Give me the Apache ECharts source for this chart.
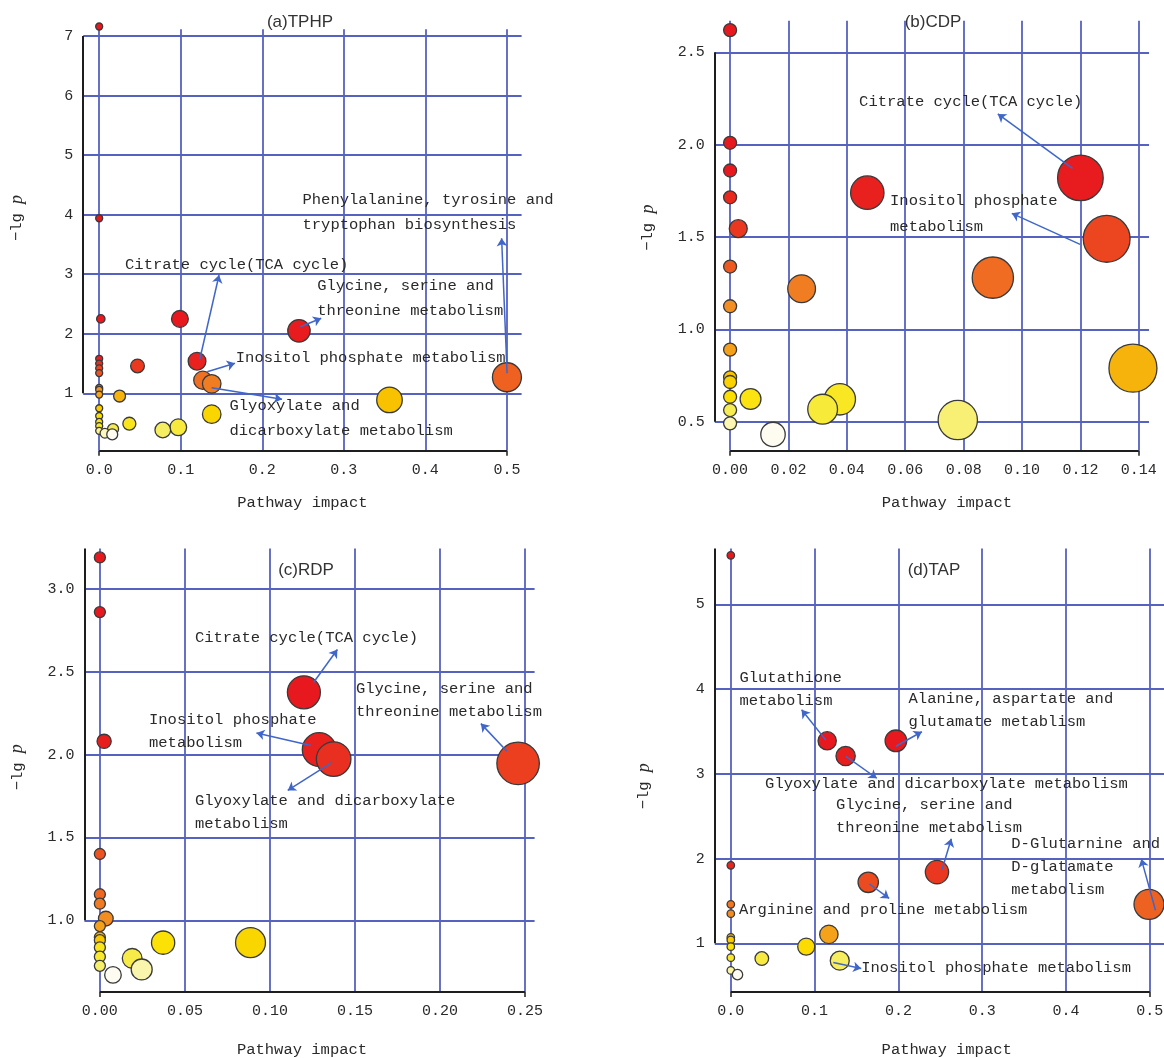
<!DOCTYPE html>
<html>
<head>
<meta charset="utf-8">
<title>Metabolic pathway analysis</title>
<script src="https://cdn.jsdelivr.net/npm/echarts@6/dist/echarts.min.js"></script>
<style>
  html, body { margin: 0; padding: 0; background: #ffffff; }
  #chart { width: 1164px; height: 1058px; }
</style>
</head>
<body>
<div id="chart"></div>
<script>
// ---- (a) TPHP: pathway impact and -lg p for each pathway ----
const tphpImpact = [0, 0, 0.002, 0.099, 0.245, 0, 0.120, 0, 0.047, 0, 0, 0.500, 0.127, 0.138, 0, 0, 0,
  0.025, 0.356, 0, 0.138, 0, 0, 0.037, 0, 0.097, 0.017, 0.078, 0, 0.007, 0.016];
const tphpLogP = [7.16, 3.94, 2.25, 2.25, 2.05, 1.58, 1.54, 1.50, 1.46, 1.42, 1.34, 1.27, 1.22, 1.16, 1.09, 1.06, 0.98,
  0.955, 0.89, 0.75, 0.65, 0.62, 0.52, 0.49, 0.45, 0.43, 0.40, 0.385, 0.37, 0.33, 0.31];
const tphpXTicks = [0, 0.1, 0.2, 0.3, 0.4, 0.5];
const tphpYTicks = [1, 2, 3, 4, 5, 6, 7];

// ---- (b) CDP ----
const cdpImpact = [0, 0, 0, 0.120, 0.047, 0, 0.0028, 0.129, 0, 0.090, 0.0245, 0, 0, 0.138, 0, 0, 0,
  0.007, 0.0376, 0.0317, 0, 0.078, 0, 0.0147];
const cdpLogP = [2.62, 2.01, 1.86, 1.82, 1.74, 1.715, 1.545, 1.49, 1.34, 1.28, 1.22, 1.125, 0.89, 0.79, 0.74, 0.715, 0.635,
  0.623, 0.621, 0.568, 0.563, 0.509, 0.491, 0.431];
const cdpXTicks = [0, 0.02, 0.04, 0.06, 0.08, 0.10, 0.12, 0.14];
const cdpYTicks = [0.5, 1.0, 1.5, 2.0, 2.5];

// ---- (c) RDP ----
const rdpImpact = [0, 0, 0.120, 0.0025, 0.129, 0.1375, 0.246, 0, 0, 0, 0.0035, 0, 0, 0, 0.0886, 0.0372,
  0, 0, 0.019, 0, 0.0246, 0.0077];
const rdpLogP = [3.19, 2.86, 2.376, 2.08, 2.03, 1.973, 1.947, 1.40, 1.157, 1.10, 1.01, 0.965, 0.897, 0.88, 0.865, 0.865,
  0.836, 0.78, 0.77, 0.725, 0.703, 0.67];
const rdpXTicks = [0, 0.05, 0.10, 0.15, 0.20, 0.25];
const rdpYTicks = [1.0, 1.5, 2.0, 2.5, 3.0];

// ---- (d) TAP ----
const tapImpact = [0, 0.115, 0.197, 0.137, 0, 0.246, 0.164, 0.499, 0, 0, 0.117, 0, 0, 0.090, 0, 0, 0.037, 0.130, 0, 0.008];
const tapLogP = [5.58, 3.39, 3.39, 3.21, 1.92, 1.84, 1.72, 1.46, 1.46, 1.35, 1.105, 1.07, 1.04, 0.96, 0.96, 0.83, 0.82, 0.795, 0.68, 0.63];
const tapXTicks = [0, 0.1, 0.2, 0.3, 0.4, 0.5];
const tapYTicks = [1, 2, 3, 4, 5];

// ---- pathway annotations (text anchor, arrow start at the bubble, arrow head) ----
const tphpNotes = [
  { text: 'Phenylalanine, tyrosine and\ntryptophan biosynthesis', at: [0.2493, 4.457], from: [0.5002, 1.337], to: [0.4935, 3.604] },
  { text: 'Citrate cycle(TCA cycle)', at: [0.0317, 3.374], from: [0.1234, 1.572], to: [0.147, 2.987] },
  { text: 'Glycine, serine and\nthreonine metabolism', at: [0.2673, 3.013], from: [0.2469, 2.119], to: [0.2723, 2.260] },
  { text: 'Inositol phosphate metabolism', at: [0.1675, 1.803], from: [0.1325, 1.364], to: [0.1665, 1.505] },
  { text: 'Glyoxylate and\ndicarboxylate metabolism', at: [0.1598, 0.997], from: [0.1379, 1.095], to: [0.2242, 0.900] }
];
const cdpNotes = [
  { text: 'Citrate cycle(TCA cycle)', at: [0.0442, 2.301], from: [0.1173, 1.872], to: [0.0917, 2.166] },
  { text: 'Inositol phosphate\nmetabolism', at: [0.0548, 1.765], from: [0.1199, 1.460], to: [0.0965, 1.628] }
];
const rdpNotes = [
  { text: 'Citrate cycle(TCA cycle)', at: [0.0559, 2.773], from: [0.1258, 2.437], to: [0.1397, 2.634] },
  { text: 'Glycine, serine and\nthreonine metabolism', at: [0.1506, 2.465], from: [0.2394, 2.020], to: [0.2241, 2.187] },
  { text: 'Inositol phosphate\nmetabolism', at: [0.0289, 2.281], from: [0.1241, 2.055], to: [0.0921, 2.130] },
  { text: 'Glyoxylate and dicarboxylate\nmetabolism', at: [0.0559, 1.792], from: [0.1365, 1.953], to: [0.1105, 1.784] }
];
const tapNotes = [
  { text: 'Glutathione\nmetabolism', at: [0.0103, 4.270], from: [0.1134, 3.398], to: [0.0845, 3.756] },
  { text: 'Alanine, aspartate and\nglutamate metablism', at: [0.2121, 4.017], from: [0.1969, 3.326], to: [0.2280, 3.497] },
  { text: 'Glyoxylate and dicarboxylate metabolism', at: [0.0409, 3.016], from: [0.1374, 3.207], to: [0.1742, 2.948] },
  { text: 'Glycine, serine and\nthreonine metabolism', at: [0.1254, 2.765], from: [0.2520, 1.869], to: [0.2631, 2.233] },
  { text: 'D-Glutarnine and\nD-glatamate\nmetabolism', at: [0.3347, 2.311], from: [0.5067, 1.390], to: [0.4899, 1.994] },
  { text: 'Arginine and proline metabolism', at: [0.0098, 1.534], from: [0.1654, 1.700], to: [0.1889, 1.529] },
  { text: 'Inositol phosphate metabolism', at: [0.1556, 0.850], from: [0.1223, 0.773], to: [0.1556, 0.702] }
];

// ---- layout and styling of each panel ----
const MONO = '"Liberation Mono", "DejaVu Sans Mono", monospace';
const GRID_BLUE = '#5662c0';
const ARROW_BLUE = '#3f66c8';
const AXIS_BLACK = '#1e1e1e';
const TEXT = '#2a2a2a';
// heat ramp: most significant pathway (rank 0) red, least significant white
const HEAT = ['#e8191e', '#e8191e', '#e8221e', '#eb4420', '#ef7022', '#f39622',
  '#f8c200', '#fbe000', '#f8e82a', '#f6ee62', '#fefcf0'];

const panels = [
  { title: '(a)TPHP', titleAt: [300, 22], impact: tphpImpact, logP: tphpLogP, xTicks: tphpXTicks, yTicks: tphpYTicks,
    xDec: 1, yDec: 0, grid: { left: 83.2, top: 29.3, width: 438.4, height: 421.4 },
    xRange: [-0.0196, 0.518], yRange: [0.037, 7.113], ySpine: [1, 7],
    bubble: [7, 22], lineHeight: 25, notes: tphpNotes,
    xNameGap: 44, xNamePad: [0, 0, 0, 0], yNameGap: 57, yNamePad: [0, 0, 0, 44] },
  { title: '(b)CDP', titleAt: [933, 22], impact: cdpImpact, logP: cdpLogP, xTicks: cdpXTicks, yTicks: cdpYTicks,
    xDec: 2, yDec: 1, grid: { left: 714.8, top: 20.7, width: 434.2, height: 430 },
    xRange: [-0.00524, 0.1435], yRange: [0.343, 2.671], ySpine: [0.5, 2.5],
    bubble: [13, 35], lineHeight: 26, notes: cdpNotes,
    xNameGap: 44, xNamePad: [0, 0, 0, 30], yNameGap: 58, yNamePad: [0, 0, 0, 16] },
  { title: '(c)RDP', titleAt: [306, 570], impact: rdpImpact, logP: rdpLogP, xTicks: rdpXTicks, yTicks: rdpYTicks,
    xDec: 2, yDec: 1, grid: { left: 84.4, top: 548.5, width: 450.2, height: 443.5 },
    xRange: [-0.0091, 0.2557], yRange: [0.567, 3.244], ySpine: [1.0, 3.244],
    bubble: [11, 31.5], lineHeight: 23, notes: rdpNotes,
    xNameGap: 50, xNamePad: [0, 15, 0, 0], yNameGap: 58, yNamePad: [0, 0, 0, 6] },
  { title: '(d)TAP', titleAt: [934, 570], impact: tapImpact, logP: tapLogP, xTicks: tapXTicks, yTicks: tapYTicks,
    xDec: 1, yDec: 0, grid: { left: 714.8, top: 548.5, width: 451.8, height: 443.5 },
    xRange: [-0.0191, 0.52], yRange: [0.425, 5.66], ySpine: [1, 5.66],
    bubble: [7.5, 22.5], lineHeight: 23, notes: tapNotes,
    xNameGap: 50, xNamePad: [0, 0, 0, 12], yNameGap: 62, yNamePad: [0, 32, 0, 0] }
];

// points as [impact, -lg p, significance rank 0..1], drawn from most to least significant
function buildPoints(impact, logP) {
  const order = logP.map((v, i) => i).sort((a, b) => logP[b] - logP[a]);
  const n = order.length;
  return order.map((idx, r) => [impact[idx], logP[idx], r / (n - 1)]);
}

const option = {
  animation: false,
  backgroundColor: '#ffffff',
  textStyle: { fontFamily: MONO },
  grid: [], xAxis: [], yAxis: [], series: [], visualMap: [], graphic: []
};

panels.forEach((p, k) => {
  option.grid.push(Object.assign({ containLabel: false, outerBoundsMode: 'none' }, p.grid));

  option.xAxis.push({
    gridIndex: k, type: 'value', min: p.xRange[0], max: p.xRange[1],
    splitLine: { show: false }, axisLine: { show: false },
    axisTick: { show: true, inside: false, length: 5, customValues: [p.xTicks[0], p.xTicks[p.xTicks.length - 1]],
      lineStyle: { color: AXIS_BLACK, width: 1.5 } },
    axisLabel: { customValues: p.xTicks, formatter: v => v.toFixed(p.xDec), margin: 12,
      fontFamily: MONO, fontSize: 15, color: TEXT },
    name: 'Pathway impact', nameLocation: 'middle', nameGap: p.xNameGap,
    nameTextStyle: { fontFamily: MONO, fontSize: 15.5, color: TEXT, padding: p.xNamePad }
  });

  option.yAxis.push({
    gridIndex: k, type: 'value', min: p.yRange[0], max: p.yRange[1],
    splitLine: { show: false }, axisLine: { show: false },
    axisTick: { show: true, inside: true, length: 6, customValues: p.yTicks,
      lineStyle: { color: AXIS_BLACK, width: 1.5 } },
    axisLabel: { customValues: p.yTicks, formatter: v => v.toFixed(p.yDec), margin: 10,
      fontFamily: MONO, fontSize: 15, color: TEXT },
    name: '−lg {i|p}', nameLocation: 'middle', nameGap: p.yNameGap,
    nameTextStyle: { fontFamily: MONO, fontSize: 15.5, color: TEXT, padding: p.yNamePad,
      rich: { i: { fontFamily: '"Liberation Serif", serif', fontStyle: 'italic', fontSize: 18, color: TEXT } } }
  });

  const xMin = p.xRange[0], yMin = p.yRange[0];
  const xLast = p.xTicks[p.xTicks.length - 1];
  const spineStyle = { color: AXIS_BLACK, width: 2, type: 'solid' };

  // grid lines and the black axis spines
  option.series.push({
    type: 'scatter', xAxisIndex: k, yAxisIndex: k, data: [], silent: true,
    markLine: {
      z: 1, silent: true, symbol: ['none', 'none'], label: { show: false },
      lineStyle: { color: GRID_BLUE, width: 1.8, type: 'solid' },
      emphasis: { disabled: true },
      data: [
        ...p.xTicks.map(v => ({ xAxis: v })),
        ...p.yTicks.map(v => ({ yAxis: v })),
        [{ coord: [p.xTicks[0], yMin], lineStyle: spineStyle }, { coord: [xLast, yMin], lineStyle: spineStyle }],
        [{ coord: [xMin, p.ySpine[0]], lineStyle: spineStyle }, { coord: [xMin, p.ySpine[1]], lineStyle: spineStyle }]
      ]
    }
  });

  const base = p.bubble[0], gain = p.bubble[1];
  const maxImpact = Math.max(...p.impact);
  option.series.push({
    type: 'scatter', xAxisIndex: k, yAxisIndex: k, z: 3, clip: false,
    data: buildPoints(p.impact, p.logP),
    symbol: 'circle',
    symbolSize: v => base + gain * Math.sqrt(v[0] / maxImpact),
    itemStyle: { borderColor: '#3a3a3a', borderWidth: 1.3, opacity: 1 },
    emphasis: { disabled: true },
    markLine: {
      z: 6, silent: true, symbol: ['none', 'arrow'], symbolSize: 8, label: { show: false },
      lineStyle: { color: ARROW_BLUE, width: 1.5, type: 'solid' },
      emphasis: { disabled: true },
      data: p.notes.map(n => [{ coord: n.from }, { coord: n.to }])
    },
    markPoint: {
      z: 7, silent: true, symbol: 'circle', symbolSize: 0,
      itemStyle: { color: 'rgba(0,0,0,0)' },
      label: { show: true, formatter: '{b}', position: [0, 0], align: 'left', verticalAlign: 'top',
        fontFamily: MONO, fontSize: 15.5, lineHeight: p.lineHeight, color: TEXT },
      emphasis: { disabled: true },
      data: p.notes.map(n => ({ name: n.text, coord: n.at }))
    }
  });

  option.visualMap.push({
    type: 'continuous', show: false, seriesIndex: 2 * k + 1, dimension: 2,
    min: 0, max: 1, inRange: { color: HEAT }
  });

  option.graphic.push({
    type: 'text', x: p.titleAt[0], y: p.titleAt[1], silent: true,
    style: { text: p.title, fill: '#333333', align: 'center', verticalAlign: 'middle',
      font: '17px "Liberation Sans Narrow", "Liberation Sans", sans-serif' }
  });
});

const chart = echarts.init(document.getElementById('chart'), null, { renderer: 'canvas' });
chart.setOption(option);
</script>
</body>
</html>
